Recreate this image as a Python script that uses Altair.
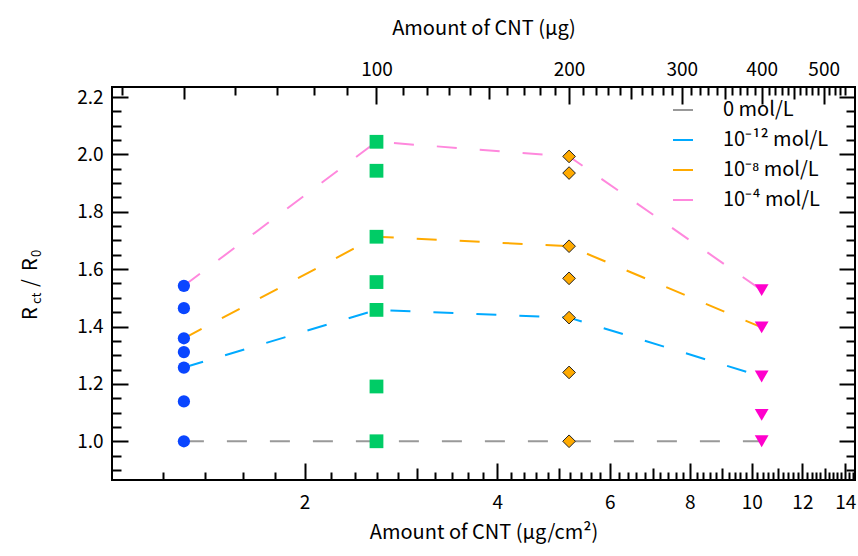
import altair as alt
import pandas as pd

FONT = "Noto Sans CJK JP"

# CNT loading on the electrode (µg) and the electrode area used for µg/cm²
CNT_UG = [50, 100, 200, 400]
ELECTRODE_AREA_CM2 = 38.6

# Rct/R0 measured at each loading
RATIO_50UG = [1.542, 1.464, 1.359, 1.311, 1.257, 1.139, 1.000]
RATIO_100UG = [2.044, 1.943, 1.713, 1.555, 1.458, 1.191, 1.000]
RATIO_200UG = [1.993, 1.935, 1.680, 1.568, 1.431, 1.240, 1.000]
RATIO_400UG = [1.527, 1.397, 1.226, 1.092, 1.000]

# concentration series joined by dashed lines
SERIES_LABELS = ["0 mol/L", "10⁻¹² mol/L", "10⁻⁸ mol/L", "10⁻⁴ mol/L"]
SERIES_COLORS = ["#999999", "#00aaff", "#ffaa00", "#ff88dd"]
SERIES_0 = [1.000, 1.000, 1.000, 1.000]
SERIES_12 = [1.257, 1.458, 1.431, 1.226]
SERIES_8 = [1.359, 1.713, 1.680, 1.397]
SERIES_4 = [1.542, 2.044, 1.993, 1.527]

# axis ticks
X_MAJOR = [2, 4, 6, 8, 10, 12, 14]
X_MID = [3, 5, 7, 9, 11, 13]
X_MINOR = [round(1 + 0.2 * i, 1) for i in range(1, 68) if i % 5 != 0]
TOP_MAJOR = [100, 200, 300, 400, 500]
TOP_MID = [50, 150, 250, 350, 450]
TOP_MINOR = [v for v in range(40, 551, 10) if v % 50 != 0]
Y_MAJOR = [round(0.05 * k, 2) for k in range(20, 45, 4)]
Y_MINOR = [round(0.05 * k, 2) for k in range(18, 45) if k % 4 != 0]

X_DOMAIN = [1.0, 14.5]
Y_DOMAIN = [0.865, 2.235]
W, H = 743, 393


def x_scale():
    return alt.Scale(type="log", domain=X_DOMAIN, nice=False)


def ug_scale():
    return alt.Scale(type="log", nice=False,
                     domain=[X_DOMAIN[0] * ELECTRODE_AREA_CM2, X_DOMAIN[1] * ELECTRODE_AREA_CM2])


def y_scale():
    return alt.Scale(domain=Y_DOMAIN, nice=False, zero=False)


density = [ug / ELECTRODE_AREA_CM2 for ug in CNT_UG]

line_rows = []
for label, vals in zip(SERIES_LABELS, [SERIES_0, SERIES_12, SERIES_8, SERIES_4]):
    for d, v in zip(density, vals):
        line_rows.append({"density": d, "ratio": v, "series": label})
lines_df = pd.DataFrame(line_rows)

lines = alt.Chart(lines_df).mark_line(strokeDash=[20, 23], strokeWidth=2).encode(
    x=alt.X("density:Q", scale=x_scale(), axis=None),
    y=alt.Y("ratio:Q", scale=y_scale(), axis=None),
    color=alt.Color(
        "series:N",
        scale=alt.Scale(domain=SERIES_LABELS, range=SERIES_COLORS),
        legend=alt.Legend(
            orient="none", legendX=560, legendY=12, title=None,
            symbolType="stroke", symbolSize=400, symbolStrokeWidth=2,
            labelFont=FONT, labelFontSize=20, labelColor="black",
            labelOffset=29, rowPadding=9, padding=0, labelLimit=300,
        ),
    ),
)

marker_groups = [
    (density[0], RATIO_50UG, dict(shape="circle", color="#0a46ff", size=150)),
    (density[1], RATIO_100UG, dict(shape="square", color="#00cc66", size=190)),
    (density[2], RATIO_200UG, dict(shape="diamond", fill="#ffaa00", stroke="#222222",
                                   strokeWidth=1, size=160)),
    (density[3], RATIO_400UG, dict(shape="triangle-down", color="#ff00cc", size=190)),
]

markers = []
for d, vals, style in marker_groups:
    df = pd.DataFrame({"density": [d] * len(vals), "ratio": vals})
    markers.append(
        alt.Chart(df).mark_point(filled=True, opacity=1, **style).encode(
            x=alt.X("density:Q", scale=x_scale(), axis=None),
            y=alt.Y("ratio:Q", scale=y_scale(), axis=None),
        )
    )

anchor = pd.DataFrame({"density": [2.0], "ug": [100.0], "ratio": [1.5]})


def axis(orient, values, size, **kw):
    opts = dict(orient=orient, values=values, tickSize=size, offset=-size,
                grid=False, domain=False, tickColor="black", tickWidth=2,
                labelOverlap=False, labelFlush=False, labels=False, title=None)
    opts.update(kw)
    return alt.Axis(**opts)


def x_axis_layer(ax):
    return alt.Chart(anchor).mark_point(opacity=0).encode(
        x=alt.X("density:Q", scale=x_scale(), axis=ax),
        y=alt.Y("ratio:Q", scale=y_scale(), axis=None),
    )


def top_axis_layer(ax):
    return alt.Chart(anchor).mark_point(opacity=0).encode(
        x=alt.X("ug:Q", scale=ug_scale(), axis=ax),
        y=alt.Y("ratio:Q", scale=y_scale(), axis=None),
    )


def y_axis_layer(ax):
    return alt.Chart(anchor).mark_point(opacity=0).encode(
        x=alt.X("density:Q", scale=x_scale(), axis=None),
        y=alt.Y("ratio:Q", scale=y_scale(), axis=ax),
    )


axes = [
    x_axis_layer(axis("bottom", X_MAJOR, 17, labels=True, format="d", labelPadding=13,
                      title="Amount of CNT (μg/cm²)", titlePadding=10)),
    x_axis_layer(axis("bottom", X_MID, 12)),
    x_axis_layer(axis("bottom", X_MINOR, 8)),
    top_axis_layer(axis("top", TOP_MAJOR, 17, labels=True, format="d", labelPadding=8,
                        title="Amount of CNT (μg)", titlePadding=22)),
    top_axis_layer(axis("top", TOP_MID, 12)),
    top_axis_layer(axis("top", TOP_MINOR, 8)),
    y_axis_layer(axis("left", Y_MAJOR, 16, labels=True, format=".1f", labelPadding=9)),
    y_axis_layer(axis("left", Y_MINOR, 9)),
    y_axis_layer(axis("right", Y_MAJOR, 16)),
    y_axis_layer(axis("right", Y_MINOR, 9)),
]

# y-axis title  R_ct / R_0  built from pieces so the subscripts sit lower
one = pd.DataFrame({"k": [0]})


def title_piece(text, x, y, size):
    return alt.Chart(one).mark_text(
        text=text, angle=270, align="left", baseline="alphabetic",
        font=FONT, fontSize=size, color="black",
    ).encode(x=alt.value(x), y=alt.value(y))


y_title = [
    title_piece("R", -75, 233, 20),
    title_piece("ct", -71, 217, 13),
    title_piece("/", -75, 200, 20),
    title_piece("R", -75, 184, 20),
    title_piece("0", -71, 170, 13),
]

chart = alt.layer(lines, *markers, *axes, *y_title).resolve_scale(
    x="independent", y="independent"
).properties(
    width=W, height=H,
    autosize=alt.AutoSizeParams(type="none"),
    padding={"left": 112, "top": 87, "right": 3, "bottom": 76},
).configure_view(
    stroke="black", strokeWidth=2
).configure_axis(
    labelFont=FONT, titleFont=FONT, labelFontSize=19, titleFontSize=20,
    labelColor="black", titleColor="black", titleFontWeight="normal",
)

chart.save("out.html", embed_options={"renderer": "svg", "actions": False})
